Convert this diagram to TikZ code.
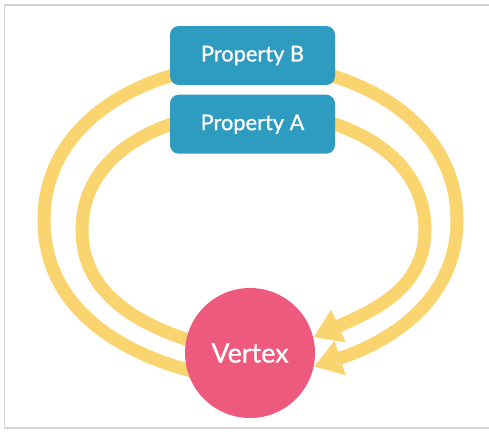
\documentclass[tikz,border=0pt]{standalone}
\usepackage{fontspec}
\setmainfont{Lato}
\newfontfamily\etiqueta{Lato}[FakeBold=0.9]
\usetikzlibrary{positioning, arrows.meta, backgrounds}
\definecolor{azulprop}{RGB}{46,155,192}
\definecolor{rosavert}{RGB}{237,90,125}
\definecolor{amarillo}{RGB}{250,212,110}
\definecolor{marco}{RGB}{212,212,212}

\begin{document}
\begin{tikzpicture}[
    font=\small,
    % Estilos base
    box_property/.style={
        rectangle, rounded corners=5pt, fill=azulprop, text=white,
        minimum width=3.3cm, minimum height=1.18cm, font=\etiqueta\fontsize{12.4}{14}\selectfont
    },
    box_vertex/.style={
        circle, fill=rosavert, text=white, minimum size=2.6cm, font=\etiqueta\fontsize{15.3}{18}\selectfont
    },
    lazo/.style={line width=0.26cm, color=amarillo},
    lazo_flecha/.style={lazo, -{Triangle[length=0.55cm, width=0.68cm]}}
]
    \useasboundingbox (0,0) rectangle (9.78,8.62);
    % Marco
    \draw[marco, line width=0.04cm] (9.78,8.52) -- (0.09,8.52) -- (0.09,0.06) -- (9.78,0.06);

    % 1. Propiedades (apiladas)
    \node[box_property] (pb) at (5.05,7.51) {Property B};
    \node[box_property, below=0.18cm of pb] (pa) {Property A};

    % 2. Vertice
    \node[box_vertex] (vtx) at (5.0,1.56) {Vertex};

    % 3. Puntos extremos de los lazos
    \coordinate (ext_o_w) at (0.88,4.22);
    \coordinate (ext_o_e) at (9.14,4.22);
    \coordinate (ext_i_w) at (1.64,4.02);
    \coordinate (ext_i_e) at (8.50,4.02);

    % --- CONEXIONES ---
    \begin{scope}[on background layer]
        % Lazo exterior (Property B)
        \draw[lazo, shorten <=-6pt] (vtx.195) to[out=166, in=-90] (ext_o_w) to[out=90, in=180] ([yshift=-0.17cm]pb.center);
        \draw[lazo_flecha] ([yshift=-0.17cm]pb.center) to[out=0, in=90] (ext_o_e) to[out=-90, in=18] (vtx.-12);
        % Lazo interior (Property A)
        \draw[lazo, shorten <=-6pt] (vtx.168) to[out=163, in=-90] (ext_i_w) to[out=90, in=180] ([yshift=0.26cm]pa.center);
        \draw[lazo_flecha] ([yshift=0.26cm]pa.center) to[out=0, in=90] (ext_i_e) to[out=-90, in=24] (vtx.14);
    \end{scope}

\end{tikzpicture}
\end{document}
